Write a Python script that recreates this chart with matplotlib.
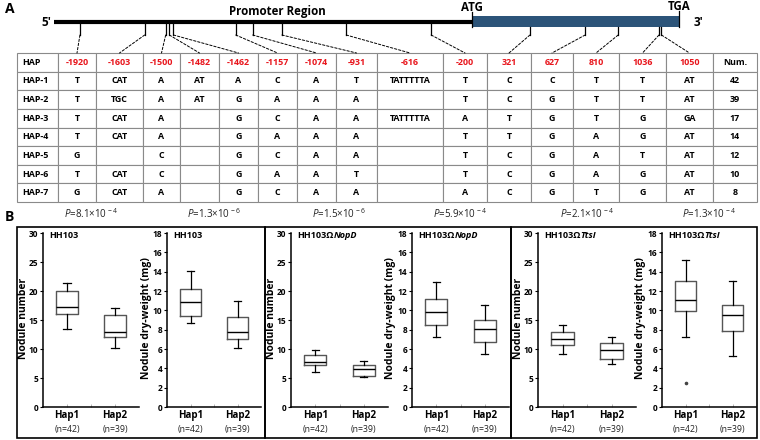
import matplotlib
matplotlib.use('Agg')
import matplotlib.pyplot as plt
from matplotlib.patches import Rectangle, ConnectionPatch
from matplotlib.table import Table

plt.rcParams['font.family'] = ['Open Sans', 'DejaVu Sans']
plt.rcParams['mathtext.fontset'] = 'custom'
plt.rcParams['mathtext.rm'] = 'Open Sans'
plt.rcParams['mathtext.it'] = 'Open Sans:italic'
plt.rcParams['mathtext.bf'] = 'Open Sans:bold'

# ---------------- data ----------------
snp_positions = [-1920, -1603, -1500, -1482, -1462, -1157, -1074, -931, -616,
                 -200, 321, 627, 810, 1036, 1050]
hap_names = ['HAP-1', 'HAP-2', 'HAP-3', 'HAP-4', 'HAP-5', 'HAP-6', 'HAP-7']
hap1_alleles = ['T', 'CAT', 'A', 'AT', 'A', 'C', 'A', 'T', 'TATTTTTA', 'T', 'C', 'C', 'T', 'T', 'AT']
hap2_alleles = ['T', 'TGC', 'A', 'AT', 'G', 'A', 'A', 'A', '', 'T', 'C', 'G', 'T', 'T', 'AT']
hap3_alleles = ['T', 'CAT', 'A', '', 'G', 'C', 'A', 'A', 'TATTTTTA', 'A', 'T', 'G', 'T', 'G', 'GA']
hap4_alleles = ['T', 'CAT', 'A', '', 'G', 'A', 'A', 'A', '', 'T', 'T', 'G', 'A', 'G', 'AT']
hap5_alleles = ['G', '', 'C', '', 'G', 'C', 'A', 'A', '', 'T', 'C', 'G', 'A', 'T', 'AT']
hap6_alleles = ['T', 'CAT', 'C', '', 'G', 'A', 'A', 'T', '', 'T', 'C', 'G', 'A', 'G', 'AT']
hap7_alleles = ['G', 'CAT', 'A', '', 'G', 'C', 'A', 'A', '', 'A', 'C', 'G', 'T', 'G', 'AT']
hap_counts = [42, 39, 17, 14, 12, 10, 8]

groups = ['Hap1', 'Hap2']
group_n = [42, 39]
strain_base = ['HH103', 'HH103Ω', 'HH103Ω']
strain_mutant = ['', 'NopD', 'TtsI']

# box statistics: [whisker low, Q1, median, Q3, whisker high] per strain
number_hap1 = [[13.4, 16.0, 17.3, 20.0, 21.4], [6.1, 7.2, 7.8, 9.0, 9.8], [9.2, 10.7, 11.8, 13.0, 14.2]]
number_hap2 = [[10.2, 12.0, 13.0, 15.8, 17.0], [5.1, 5.4, 6.6, 7.2, 8.0], [7.4, 8.2, 9.8, 11.0, 12.0]]
weight_hap1 = [[8.7, 9.4, 10.9, 12.2, 14.1], [7.2, 8.5, 9.8, 11.2, 12.9], [7.2, 9.9, 11.1, 13.0, 15.2]]
weight_hap2 = [[6.1, 7.0, 7.8, 9.3, 11.0], [5.5, 6.7, 8.1, 9.0, 10.6], [5.3, 7.9, 9.5, 10.6, 13.0]]
weight_hap1_outliers = [[], [], [2.5]]
number_pvalues = [('8.1', '-4'), ('1.5', '-6'), ('2.1', '-4')]
weight_pvalues = [('1.3', '-6'), ('5.9', '-4'), ('1.3', '-4')]

# ---------------- layout ----------------
W, H = 760, 440
fig = plt.figure(figsize=(W / 100, H / 100), dpi=100)


def rect(x0, y0, x1, y1):
    return [x0 / W, 1 - y1 / H, (x1 - x0) / W, (y1 - y0) / H]


def ftext(x, y, s, **kw):
    return fig.text(x / W, 1 - y / H, s, **kw)


# ---- Panel A: gene diagram ----
promoter_left = -2047
cds_right = 1147
axP = fig.add_axes(rect(54, 0, 472, 50))
axP.set_xlim(promoter_left, 0)
axP.set_ylim(50, 0)
axP.axis('off')
axC = fig.add_axes(rect(472, 0, 679, 50))
axC.set_xlim(0, cds_right)
axC.set_ylim(50, 0)
axC.axis('off')

axP.plot([promoter_left, 0], [22.5, 22.5], color='black', lw=3.0,
         solid_capstyle='butt', clip_on=False)
axC.add_patch(Rectangle((0, 16.5), cds_right, 10.5, facecolor='#2c5479',
                        edgecolor='none', clip_on=False))
axC.plot([0, 0], [12, 27], color='black', lw=0.9, clip_on=False)
axC.plot([cds_right, cds_right], [11, 27], color='black', lw=0.9, clip_on=False)
axC.text(0, 7.5, 'ATG', ha='center', va='center', fontsize=8.3, fontweight='bold')
axC.text(cds_right, 6, 'TGA', ha='center', va='center', fontsize=8.3, fontweight='bold')
ftext(10, 9, 'A', fontsize=10, fontweight='bold', ha='center', va='center')
ftext(46, 22, '5′', fontsize=8.5, fontweight='bold', ha='center', va='center')
ftext(698, 23, '3′', fontsize=8.5, fontweight='bold', ha='center', va='center')
ftext(277, 11, 'Promoter Region', fontsize=8.3, fontweight='bold', ha='center', va='center')

# ---- Panel A: table ----
col_widths_px = [41, 38, 47, 37, 39, 39, 39, 39, 41, 66, 44, 44, 42, 46, 47, 47, 44]
table_w = sum(col_widths_px)
axT = fig.add_axes(rect(17, 53, 17 + table_w, 202))
axT.axis('off')

header = ['HAP'] + [str(p) for p in snp_positions] + ['Num.']
allele_rows = [hap1_alleles, hap2_alleles, hap3_alleles, hap4_alleles,
               hap5_alleles, hap6_alleles, hap7_alleles]
rows = [header] + [[n] + a + [str(c)] for n, a, c in zip(hap_names, allele_rows, hap_counts)]

tbl = Table(axT, bbox=[0, 0, 1, 1])
nrows = len(rows)
for r, row in enumerate(rows):
    for c, txt in enumerate(row):
        cell = tbl.add_cell(r, c, width=col_widths_px[c] / table_w, height=1 / nrows,
                            text=txt, loc='left' if c == 0 else 'center',
                            facecolor='white', edgecolor='#8a8a8a')
        cell.set_linewidth(0.8)
        cell.PAD = 0.12
        t = cell.get_text()
        t.set_fontsize(6.4)
        t.set_fontweight('bold')
        if r == 0 and 1 <= c <= len(snp_positions):
            t.set_color('#e8141b')
tbl.auto_set_font_size(False)
axT.add_table(tbl)

# ticks and dashed connectors
centers = []
acc = 0
for w in col_widths_px:
    centers.append((acc + w / 2) / table_w)
    acc += w
for i, p in enumerate(snp_positions):
    ax = axP if p < 0 else axC
    ytop = 24.5 if p < 0 else 27
    ax.plot([p, p], [ytop, 35], color='black', lw=0.9, clip_on=False)
    con = ConnectionPatch(xyA=(p, 35), coordsA=ax.transData,
                          xyB=(centers[i + 1], 1), coordsB=axT.transAxes,
                          linestyle=(0, (2.5, 1.8)), lw=0.7, color='black')
    fig.add_artist(con)

# ---- Panel B ----
ftext(9, 217, 'B', fontsize=10, fontweight='bold', ha='center', va='center')
for x0, x1 in [(17, 265), (265, 511), (511, 757)]:
    fig.add_artist(Rectangle((x0 / W, 1 - 438 / H), (x1 - x0) / W, (438 - 227) / H,
                             transform=fig.transFigure, fill=False,
                             edgecolor='black', lw=1.2))

lefts = [43, 167, 291, 412, 538, 662]
rights = [139, 261, 388, 509, 636, 756]
ax_top, ax_bot = 233, 407


def make_stats(vals, fl):
    return dict(whislo=vals[0], q1=vals[1], med=vals[2], q3=vals[3],
                whishi=vals[4], fliers=fl)


for k in range(6):
    s = k // 2
    is_number = (k % 2 == 0)
    ax = fig.add_axes(rect(lefts[k], ax_top, rights[k], ax_bot))
    if is_number:
        st = [make_stats(number_hap1[s], []), make_stats(number_hap2[s], [])]
        ymax, step = 30, 5
        ylabel = 'Nodule number'
        pv = number_pvalues[s]
    else:
        st = [make_stats(weight_hap1[s], weight_hap1_outliers[s]),
              make_stats(weight_hap2[s], [])]
        ymax, step = 18, 2
        ylabel = 'Nodule dry-weight (mg)'
        pv = weight_pvalues[s]
    ax.bxp(st, positions=[1, 2], widths=0.45, showfliers=True, capwidths=0.15,
           boxprops=dict(color='#555555', lw=1.0),
           medianprops=dict(color='black', lw=1.0),
           whiskerprops=dict(color='black', lw=0.9),
           capprops=dict(color='black', lw=0.9),
           flierprops=dict(marker='o', markersize=1.6, markerfacecolor='#444444',
                           markeredgecolor='#444444'))
    ax.set_xlim(0.5, 2.5)
    ax.set_ylim(0, ymax)
    ax.set_yticks(range(0, ymax + 1, step))
    ax.set_xticks([1, 2])
    ax.set_xticks([1.5], minor=True)
    ax.set_xticklabels(groups, fontsize=7, fontweight='bold')
    for lab in ax.get_yticklabels():
        lab.set_fontweight('bold')
        lab.set_fontsize(6.0)
    ax.tick_params(axis='y', direction='out', length=2.5, width=0.8, pad=0.8)
    ax.tick_params(axis='x', which='both', direction='in', length=2, width=0.6,
                   color='#aaaaaa', pad=2.5)
    for sp in ['top', 'right']:
        ax.spines[sp].set_visible(False)
    for sp in ['left', 'bottom']:
        ax.spines[sp].set_linewidth(1.1)
    ax.patch.set_alpha(0)
    wpx = rights[k] - lefts[k]
    ax.set_ylabel(ylabel, fontsize=7.5, fontweight='bold')
    ax.yaxis.set_label_coords((-14 if is_number else -15.5) / wpx, 0.51)
    for xi, n in zip([1, 2], group_n):
        ax.annotate(f'(n={n})', xy=(xi, 0), xycoords=('data', 'axes fraction'),
                    xytext=(0, -16), textcoords='offset points', ha='center',
                    va='center', fontsize=6.3, color='#222222')
    t = ax.annotate(strain_base[s], xy=(0, 1), xycoords='axes fraction',
                    xytext=(4.5, -1.5), textcoords='offset points', ha='left',
                    va='center', fontsize=6.5, fontweight='bold')
    if strain_mutant[s]:
        ax.annotate(strain_mutant[s], xy=(1, 0), xycoords=t, ha='left', va='bottom',
                    fontsize=6.5, fontweight='bold', fontstyle='italic')
    cx = (lefts[k] + rights[k]) / 2
    ftext(cx, 214, r'$\mathit{P}$=' + pv[0] + '×10' + r'$^{\,' + pv[1] + '}$',
          fontsize=7, ha='center', va='center', color='#222222')

fig.savefig('out.png', dpi=100)
